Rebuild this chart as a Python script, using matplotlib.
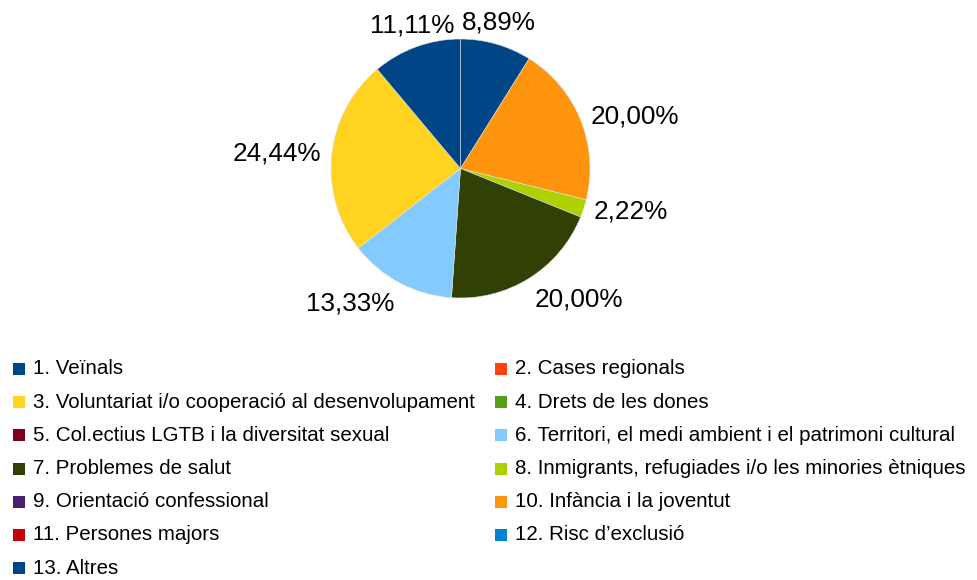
import matplotlib
matplotlib.use('Agg')
import matplotlib.pyplot as plt
import matplotlib.patches as mpatches
import numpy as np

plt.rcParams['font.family'] = ['Liberation Sans', 'DejaVu Sans']

# Categories (legend order) and number of entities in each
categories = [
    '1. Veïnals',
    '2. Cases regionals',
    '3. Voluntariat i/o cooperació al desenvolupament',
    '4. Drets de les dones',
    '5. Col.ectius LGTB i la diversitat sexual',
    '6. Territori, el medi ambient i el patrimoni cultural',
    '7. Problemes de salut',
    '8. Inmigrants, refugiades i/o les minories ètniques',
    '9. Orientació confessional',
    '10. Infància i la joventut',
    '11. Persones majors',
    '12. Risc d\u2019exclusió',
    '13. Altres',
]
counts = [4, 0, 11, 0, 0, 6, 9, 1, 0, 9, 0, 0, 5]
colors = ['#004586', '#ff420e', '#ffd320', '#579d1c', '#7e0021', '#83caff',
          '#314004', '#aecf00', '#4b1f6f', '#ff950e', '#c5000b', '#0084d1',
          '#004586']
# order of slices, clockwise from 12 o'clock (index into categories)
pie_order = [0, 9, 7, 6, 5, 2, 12]

W, H = 978, 580
fig = plt.figure(figsize=(W / 100, H / 100), dpi=100)

# pie
cx, cy, r = 460.5, 168.5, 129.5
ax = fig.add_axes([(cx - r) / W, 1 - (cy + r) / H, 2 * r / W, 2 * r / H])
vals = [counts[i] for i in pie_order]
cols = [colors[i] for i in pie_order]
total = sum(counts)
wedges, _ = ax.pie(vals, colors=cols, startangle=90, counterclock=False,
                   radius=1, wedgeprops=dict(edgecolor='#e0e0e0', linewidth=0.4))
ax.set_xlim(-1, 1)
ax.set_ylim(-1, 1)
ax.axis('off')

for w, v in zip(wedges, vals):
    ang = np.deg2rad((w.theta1 + w.theta2) / 2)
    c, s = np.cos(ang), np.sin(ang)
    ha = 'left' if c > 0.35 else ('right' if c < -0.35 else 'center')
    va = 'bottom' if s > 0.5 else ('top' if s < -0.5 else 'center')
    txt = f'{100 * v / total:.2f}%'.replace('.', ',')
    ax.text(1.08 * c, 1.08 * s, txt, ha=ha, va=va, fontsize=18.8,
            color='black', clip_on=False)

# legend, two columns filled row by row
row_y0, row_dy = 369, 33.2
col_x = [13, 495]
sq = 12
for i, (lab, col) in enumerate(zip(categories, colors)):
    row, cc = divmod(i, 2)
    y = row_y0 + row * row_dy
    x = col_x[cc]
    fig.patches.append(mpatches.Rectangle(
        (x / W, 1 - (y + sq / 2) / H), sq / W, sq / H,
        transform=fig.transFigure, facecolor=col, edgecolor='none'))
    fig.text((x + sq + 8) / W, 1 - y / H, lab, ha='left', va='center',
             fontsize=14.8, color='black')

fig.savefig('out.png', dpi=100, facecolor='white')
